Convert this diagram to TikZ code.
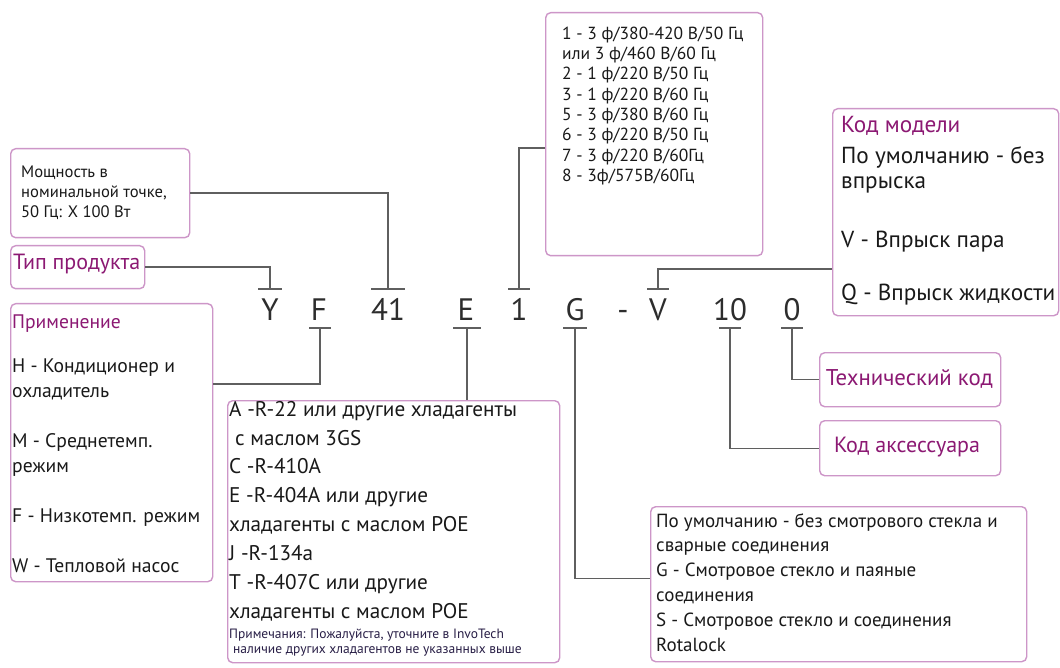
\documentclass[tikz,border=0pt]{standalone}
\usepackage{fontspec}
\setmainfont{PT Sans}
\definecolor{boxc}{RGB}{205,150,200}
\definecolor{magc}{RGB}{140,25,115}
\definecolor{linec}{RGB}{95,95,95}
\definecolor{codec}{RGB}{45,45,45}
\definecolor{txtc}{RGB}{25,25,25}
\definecolor{notec}{RGB}{40,30,70}
\begin{document}
\begin{tikzpicture}[x=1pt,y=-1pt,
 box/.style={draw=boxc, line width=1.4pt, rounded corners=5pt, inner sep=0pt, anchor=north west, fill=white},
 conn/.style={draw=linec, line width=1.4pt},
 txt/.style={inner sep=0pt, align=left, text=txtc, anchor=north west},
 lbl/.style={inner sep=0pt, text=magc, anchor=base},
 codech/.style={font=\fontsize{31}{31}\selectfont, text=codec, inner sep=0pt, anchor=base}]
\useasboundingbox[fill=white] (0,0) rectangle (1060,668);

% boxes
\node[box, minimum width=179, minimum height=89] (pow) at (10,148) {};
\node[box, minimum width=134, minimum height=43] (tip) at (10,245) {};
\node[box, minimum width=202, minimum height=278] (prim) at (10,303) {};
\node[box, minimum width=332, minimum height=262] (ref) at (227,400) {};
\node[box, minimum width=217, minimum height=243] (volt) at (545,12) {};
\node[box, minimum width=226, minimum height=207] (model) at (832,108) {};
\node[box, minimum width=181, minimum height=54] (tech) at (819,352) {};
\node[box, minimum width=181, minimum height=55] (acc) at (819,420) {};
\node[box, minimum width=376, minimum height=155] (gbox) at (650,506) {};

% texts
\node[txt, font=\fontsize{16.6}{20}\selectfont] (powt) at (21,163) {\strut Мощность в\\номинальной точке,\\50 Гц: X 100 Вт};
\node[lbl, anchor=base west, font=\fontsize{22}{24}\selectfont] (tipt) at (13,270) {Тип продукта};
\node[txt, font=\fontsize{19.6}{25}\selectfont] (primt) at (12,310.5) {\textcolor{magc}{\strut Применение}\\[19pt]H - Кондиционер и\\охладитель\\[25pt]M - Среднетемп.\\режим\\[25pt]F - Низкотемп. режим\\[25pt]W - Тепловой насос};
\node[txt, font=\fontsize{21.2}{28.86}\selectfont] (reft) at (229,395.8) {\strut A -R-22 или другие хладагенты\\\hspace*{6pt}с маслом 3GS\\C -R-410A\\E -R-404A или другие\\хладагенты с маслом POE\\J -R-134a\\T -R-407C или другие\\хладагенты с маслом POE};
\node[txt, text=notec, font=\fontsize{13.5}{15}\selectfont] (note) at (229,627.5) {\strut Примечания: Пожалуйста, уточните в InvoTech\\\hspace*{4pt}наличие других хладагентов не указанных выше};
\node[txt, font=\fontsize{17.5}{20.3}\selectfont] (voltt) at (562,24.8) {\strut 1 - 3 ф/380-420 В/50 Гц\\или 3 ф/460 В/60 Гц\\2 - 1 ф/220 В/50 Гц\\3 - 1 ф/220 В/60 Гц\\5 - 3 ф/380 В/60 Гц\\6 - 3 ф/220 В/50 Гц\\7 - 3 ф/220 В/60Гц\\8 - 3ф/575В/60Гц};
\node[txt, font=\fontsize{23.2}{25}\selectfont] (modelt) at (841,114.5) {\textcolor{magc}{\strut Код модели}\\[6pt]По умолчанию - без\\впрыска\\[34pt]V - Впрыск пара\\[28pt]Q - Впрыск жидкости};
\node[lbl, font=\fontsize{22.8}{26}\selectfont] (techt) at (909.5,385) {Технический код};
\node[lbl, font=\fontsize{22}{26}\selectfont] (acct) at (907,452) {Код аксессуара};
\node[txt, font=\fontsize{19}{24.8}\selectfont] (gboxt) at (656,509.6) {\strut По умолчанию - без смотрового стекла и\\сварные соединения\\G - Смотровое стекло и паяные\\соединения\\S - Смотровое стекло и соединения\\Rotalock};

% code characters
\node[codech] (cY) at (270,320) {Y};
\node[codech] (cF) at (319,320) {F};
\node[codech] (c41) at (388,320) {41};
\node[codech] (cE) at (466,320) {E};
\node[codech] (c1) at (519,320) {1};
\node[codech] (cG) at (575,320) {G};
\node[codech] (cdash) at (623,320) {-};
\node[codech] (cV) at (658,320) {V};
\node[codech] (c10) at (730,320) {10};
\node[codech] (c0) at (792,320) {0};

% tick points
\coordinate (tY) at (270,289);
\coordinate (t41) at (388,289);
\coordinate (t1) at (519,289);
\coordinate (tV) at (658,289);
\coordinate (tF) at (320,328);
\coordinate (tE) at (467,328);
\coordinate (tG) at (575,328);
\coordinate (t10) at (730,328);
\coordinate (t0) at (792,328);

% ticks
\draw[conn] ([xshift=-12]tY) -- ([xshift=12]tY);
\draw[conn] ([xshift=-17]t41) -- ([xshift=17]t41);
\draw[conn] ([xshift=-11]t1) -- ([xshift=11]t1);
\draw[conn] ([xshift=-11]tV) -- ([xshift=11]tV);
\draw[conn] ([xshift=-11]tF) -- ([xshift=11]tF);
\draw[conn] ([xshift=-14]tE) -- ([xshift=14]tE);
\draw[conn] ([xshift=-12]tG) -- ([xshift=12]tG);
\draw[conn] ([xshift=-11]t10) -- ([xshift=11]t10);
\draw[conn] ([xshift=-11]t0) -- ([xshift=11]t0);

% connectors
\draw[conn] (pow.east) -| (t41);
\draw[conn] (tip.east) -| (tY);
\draw[conn] (t1) |- ([yshift=-136]volt.north west);
\draw[conn] (tV) |- ([yshift=-161]model.north west);
\draw[conn] (tF) |- ([yshift=-81]prim.north east);
\draw[conn] (tE) -- (tE |- ref.north);
\draw[conn] (tG) |- ([yshift=5.5]gbox.west);
\draw[conn] (t10) |- (acc.west);
\draw[conn] (t0) |- (tech.west);
\end{tikzpicture}
\end{document}
